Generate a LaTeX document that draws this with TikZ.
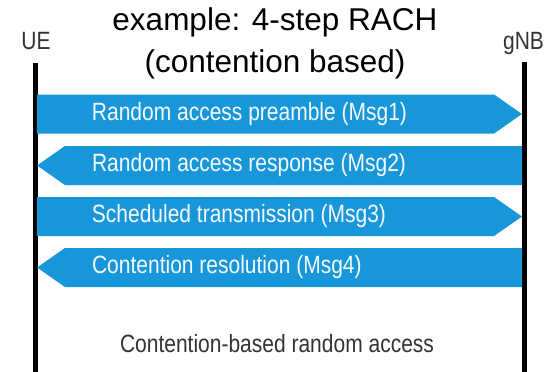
\documentclass[tikz,border=0pt]{standalone}
\usepackage{fontspec}
\setmainfont{Liberation Sans}
\newfontfamily\condfont[FakeStretch=0.84]{Liberation Sans}
\usetikzlibrary{shapes.symbols}
\definecolor{bandblue}{RGB}{24,150,218}
\definecolor{labelgray}{RGB}{51,51,51}
\begin{document}
\begin{tikzpicture}[x=1pt, y=-1pt,
    every node/.style={inner sep=0pt, outer sep=0pt},
    entity/.style={font=\condfont\fontsize{25}{29}\selectfont, text=labelgray, anchor=base},
    lifeline/.style={line width=5pt, black},
    band/.style={signal, fill=bandblue, draw=none, minimum width=485pt, minimum height=39pt,
                 signal pointer angle=70},
    msgtext/.style={font=\condfont\fontsize{25}{29}\selectfont, text=white!95!bandblue, anchor=west}]
  \useasboundingbox (0,0) rectangle (555,372);
  % Title
  \node[font=\fontsize{31.5}{42}\selectfont, align=center, anchor=base] (title) at (275,72)
    {example: 4-step RACH\\(contention based)};
  % UE and gNB
  \node[entity] (ue) at (36,49) {UE};
  \node[entity] (gnb) at (523.5,49) {gNB};
  \coordinate (ue-top) at (35,63);
  \coordinate (ue-end) at (35,372);
  \coordinate (gnb-top) at (524,62);
  \coordinate (gnb-end) at (524,372);
  \draw[lifeline] (ue-top) -- (ue-end);
  \draw[lifeline] (gnb-top) -- (gnb-end);
  % Messages
  \node[band, signal to=east] (m1) at (265.5,114) {};
  \node[band, signal to=west] (m2) at (293.5,165.5) {};
  \node[band, signal to=east] (m3) at (265.5,216.5) {};
  \node[band, signal to=west] (m4) at (293.5,267.5) {};
  \node[msgtext] (t1) at ([xshift=55pt]m1.west) {Random access preamble (Msg1)};
  \node[msgtext] (t2) at ([xshift=55pt]m2.west) {Random access response (Msg2)};
  \node[msgtext] (t3) at ([xshift=55pt]m3.west) {Scheduled transmission (Msg3)};
  \node[msgtext] (t4) at ([xshift=55pt]m4.west) {Contention resolution (Msg4)};
  % Caption
  \node[entity, anchor=base west] (cap) at (120,352) {Contention-based random access};
\end{tikzpicture}
\end{document}
